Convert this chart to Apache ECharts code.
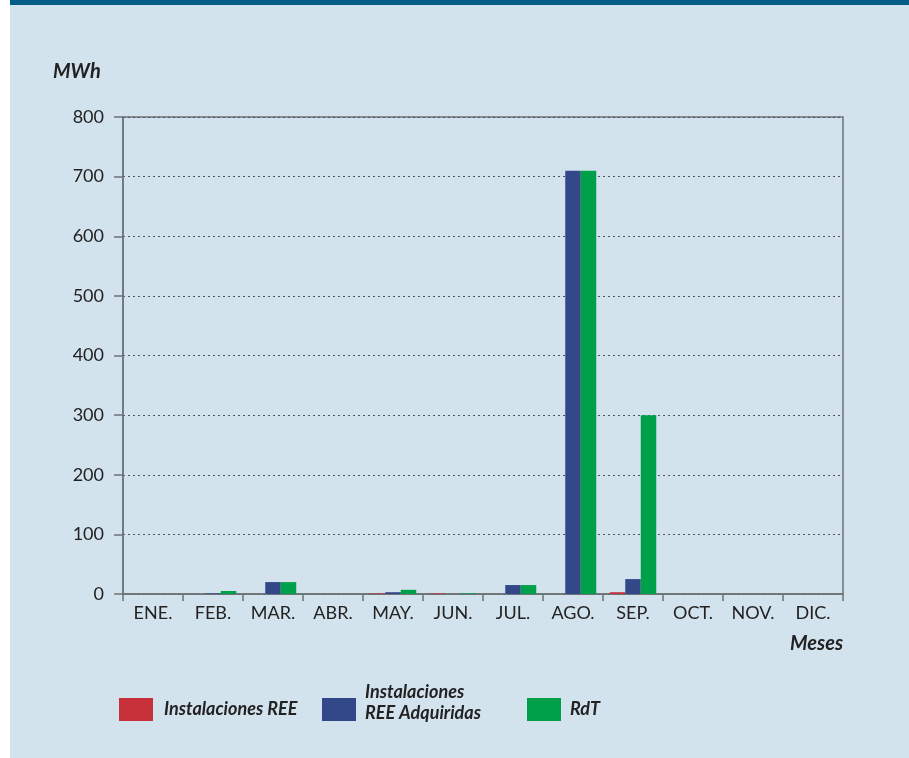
<!DOCTYPE html>
<html>
<head>
<meta charset="utf-8">
<script src="https://cdn.jsdelivr.net/npm/echarts@6/dist/echarts.min.js"></script>
<style>
  html, body { margin: 0; padding: 0; background: #fff; }
  #chart {
    position: absolute; left: 10px; top: 0;
    width: 899px; height: 753px;
    background: #d3e3ed;
    border-top: 5px solid #005e88;
  }
</style>
</head>
<body>
<div id="chart"></div>
<script>
// datos mensuales (MWh)
const meses = ["ENE.", "FEB.", "MAR.", "ABR.", "MAY.", "JUN.", "JUL.", "AGO.", "SEP.", "OCT.", "NOV.", "DIC."];
const instalacionesREE = [0, 0, 0, 0, 1, 1, 0, 0, 3, 0, 0, 0];
const reeAdquiridas = [0, 1, 20, 0, 3, 0, 15, 710, 25, 0, 0, 0];
const rdt = [0, 5, 20, 0, 7, 1, 15, 710, 300, 0, 0, 0];

const nombres = ["Instalaciones REE", "Instalaciones REE Adquiridas", "RdT"];
const colores = ["#c8313a", "#334888", "#00a04b"];

const fuente = "Lato, 'Open Sans', sans-serif";

function leyenda(nombre, left, top, padText, formatter) {
  return {
    data: [nombre],
    left: left,
    top: top,
    icon: "rect",
    itemWidth: 34,
    itemHeight: 23,
    selectedMode: false,
    formatter: formatter,
    textStyle: {
      color: "#222",
      fontSize: 18,
      fontStyle: "italic",
      fontWeight: "bold",
      fontFamily: fuente,
      lineHeight: 21,
      padding: padText,
      rich: {
        a: { fontSize: 18, fontStyle: "italic", fontWeight: "bold", fontFamily: fuente, color: "#222", lineHeight: 21 },
        b: { fontSize: 1, lineHeight: 13 },
      },
    },
  };
}

const chart = echarts.init(document.getElementById("chart"));

const option = {
  animation: false,
  grid: {
    left: 113,
    top: 112,
    width: 720,
    height: 477,
    show: true,
    borderColor: "#6c7376",
    borderWidth: 1.5,
  },
  legend: [
    leyenda(nombres[0], 104, 688, [0, 0, 0, 6]),
    leyenda(nombres[1], 307, 672, [0, 0, 0, 4], "{a|Instalaciones}\n{a|REE Adquiridas}\n{b| }"),
    leyenda(nombres[2], 512, 688, [0, 0, 0, 4]),
  ],
  graphic: [
    {
      type: "text",
      left: 43,
      top: 57,
      style: {
        text: "MWh",
        fill: "#222",
        font: "italic bold 20px " + fuente,
      },
    },
    {
      type: "text",
      right: 66,
      top: 629,
      style: {
        text: "Meses",
        fill: "#222",
        font: "italic bold 20px " + fuente,
      },
    },
  ],
  xAxis: {
    type: "category",
    data: meses,
    axisLine: { lineStyle: { color: "#6c7376", width: 1.5 } },
    axisTick: { show: true, length: 7, lineStyle: { color: "#6c7376", width: 1.5 } },
    axisLabel: { color: "#222", fontSize: 18, fontFamily: fuente, margin: 10 },
  },
  yAxis: {
    type: "value",
    min: 0,
    max: 800,
    interval: 100,
    axisLine: { show: true, lineStyle: { color: "#6c7376", width: 1.5 } },
    axisTick: { show: true, length: 9, lineStyle: { color: "#6c7376", width: 1.5 } },
    axisLabel: { color: "#222", fontSize: 18, fontFamily: fuente, margin: 19 },
    splitLine: { lineStyle: { color: "#555", type: [2, 3], width: 1 } },
  },
  series: [instalacionesREE, reeAdquiridas, rdt].map((vals, i) => ({
    name: nombres[i],
    type: "bar",
    data: vals,
    barWidth: 15.5,
    barGap: "0%",
    itemStyle: { color: colores[i] },
  })),
};

chart.setOption(option);
</script>
</body>
</html>
